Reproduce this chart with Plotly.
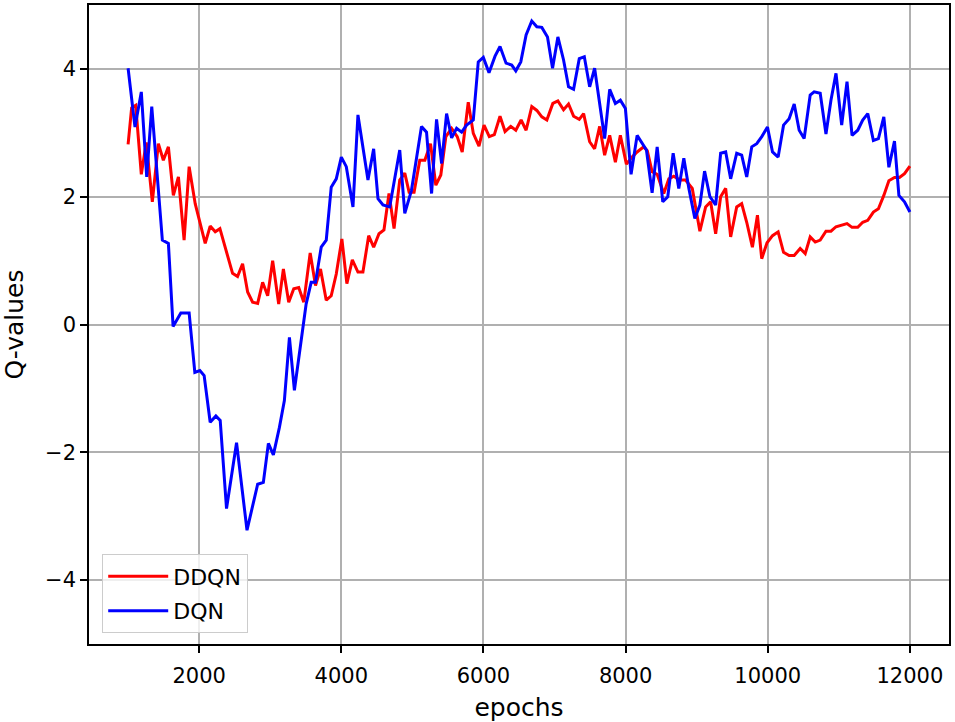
import plotly.graph_objects as go

# ---- data ----
ddqn_epochs = [1000, 1050, 1107, 1186, 1256, 1341, 1426, 1496, 1567, 1637, 1708, 1788, 1859, 1944,
               2085, 2155, 2226, 2292, 2470, 2540, 2611, 2682, 2752, 2823, 2893, 2964, 3034, 3119,
               3185, 3260, 3331, 3401, 3472, 3562, 3637, 3707, 3788, 3858, 3929, 4008, 4078, 4155,
               4234, 4304, 4385, 4455, 4530, 4600, 4671, 4742, 4822, 4893, 4954, 5024, 5104, 5175,
               5255, 5330, 5400, 5471, 5552, 5631, 5701, 5786, 5857, 5937, 6008, 6082, 6153, 6233,
               6304, 6384, 6455, 6530, 6600, 6680, 6751, 6821, 6892, 6976, 7047, 7127, 7197, 7268,
               7348, 7409, 7494, 7564, 7635, 7705, 7776, 7856, 7926, 8011, 8091, 8162, 8255, 8305,
               8373, 8444, 8537, 8608, 8678, 8763, 8843, 8938, 9045, 9126, 9196, 9267, 9337, 9408,
               9478, 9563, 9633, 9704, 9784, 9855, 9915, 9990, 10067, 10146, 10222, 10301, 10372,
               10456, 10527, 10597, 10668, 10738, 10819, 10889, 10960, 11040, 11115, 11186, 11266,
               11336, 11407, 11486, 11557, 11633, 11704, 11783, 11853, 11924, 12000]
ddqn_q = [2.82, 3.39, 3.43, 2.35, 2.85, 1.92, 2.83, 2.57, 2.78, 2.02, 2.31, 1.32, 2.47, 1.89,
          1.27, 1.54, 1.45, 1.50, 0.80, 0.75, 0.95, 0.51, 0.35, 0.33, 0.66, 0.45, 1.00, 0.32,
          0.87, 0.35, 0.56, 0.58, 0.35, 1.12, 0.61, 0.87, 0.38, 0.45, 0.79, 1.34, 0.64, 1.01,
          0.82, 0.82, 1.39, 1.21, 1.42, 1.48, 2.05, 1.50, 2.26, 2.37, 2.07, 2.07, 2.57, 2.57,
          2.83, 2.18, 2.34, 2.94, 3.07, 2.94, 2.70, 3.48, 2.99, 2.79, 3.12, 2.94, 2.97, 3.26,
          3.02, 3.10, 3.04, 3.20, 3.04, 3.41, 3.35, 3.25, 3.20, 3.46, 3.50, 3.36, 3.45, 3.26,
          3.21, 3.30, 2.86, 2.75, 3.10, 2.65, 2.96, 2.54, 2.96, 2.51, 2.62, 2.70, 2.78, 2.72,
          2.39, 2.35, 2.05, 2.28, 2.32, 2.26, 2.26, 2.13, 1.46, 1.84, 1.92, 1.42, 2.00, 2.13,
          1.37, 1.84, 1.89, 1.60, 1.21, 1.71, 1.03, 1.28, 1.39, 1.45, 1.13, 1.08, 1.08,
          1.19, 1.11, 1.37, 1.29, 1.32, 1.46, 1.46, 1.53, 1.55, 1.58, 1.52, 1.52,
          1.60, 1.63, 1.76, 1.81, 2.02, 2.25, 2.30, 2.30, 2.36, 2.48]

dqn_epochs = [1000, 1097, 1186, 1262, 1333, 1482, 1567, 1633, 1742, 1859, 1939, 2010, 2070, 2155,
              2235, 2296, 2385, 2526, 2673, 2823, 2903, 2974, 3044, 3129, 3199, 3270, 3340, 3421,
              3505, 3576, 3637, 3717, 3788, 3858, 3929, 4000, 4070, 4164, 4234, 4375, 4455, 4516,
              4586, 4681, 4822, 4893, 4987, 5128, 5199, 5270, 5340, 5411, 5481, 5552, 5622, 5693,
              5763, 5857, 5927, 5998, 6078, 6163, 6233, 6318, 6398, 6455, 6525, 6600, 6680, 6751,
              6821, 6901, 6972, 7047, 7127, 7197, 7268, 7348, 7419, 7494, 7564, 7705, 7776, 7856,
              7926, 7997, 8077, 8162, 8232, 8293, 8373, 8444, 8523, 8593, 8669, 8748, 8819, 8890,
              8974, 9045, 9111, 9186, 9267, 9337, 9408, 9478, 9563, 9633, 9704, 9775, 9845, 9916,
              9996, 10067, 10146, 10222, 10301, 10372, 10442, 10512, 10597, 10653, 10738, 10819,
              10889, 10960, 11040, 11115, 11186, 11266, 11336, 11407, 11486, 11557, 11633, 11704,
              11783, 11845, 11924, 12000]
dqn_q = [4.01, 3.09, 3.64, 2.31, 3.41, 1.32, 1.27, -0.03, 0.18, 0.18, -0.75, -0.72, -0.80, -1.53,
         -1.43, -1.50, -2.88, -1.85, -3.22, -2.50, -2.47, -1.86, -2.04, -1.61, -1.19, -0.20, -1.03, -0.36,
         0.32, 0.66, 0.66, 1.21, 1.32, 2.15, 2.28, 2.62, 2.47, 1.84, 3.28, 2.26, 2.75, 1.97,
         1.87, 1.84, 2.73, 1.74, 2.10, 3.10, 3.01, 2.05, 3.21, 2.52, 3.30, 2.92, 3.07, 3.01,
         3.12, 3.20, 4.11, 4.18, 3.94, 4.20, 4.35, 4.09, 4.06, 3.97, 4.11, 4.53, 4.75, 4.66,
         4.65, 4.50, 4.01, 4.50, 4.14, 3.72, 3.68, 4.16, 4.19, 3.72, 4.01, 2.91, 3.68, 3.46,
         3.51, 3.38, 2.35, 2.96, 2.83, 2.73, 2.06, 2.78, 1.92, 2.00, 2.68, 2.13, 2.60, 2.13,
         1.66, 1.87, 2.40, 2.00, 1.87, 2.68, 2.70, 2.28, 2.68, 2.65, 2.31, 2.78, 2.83, 2.94,
         3.09, 2.70, 2.62, 3.12, 3.22, 3.45, 3.04, 2.91, 3.59, 3.64, 3.62, 2.98,
         3.51, 3.93, 3.12, 3.80, 2.96, 3.04, 3.20, 3.30, 2.88, 2.91, 3.25, 2.46,
         2.87, 2.02, 1.92, 1.76]

x_ticks = [2000, 4000, 6000, 8000, 10000, 12000]
y_ticks = [-4, -2, 0, 2, 4]
x_label = "epochs"
y_label = "Q-values"

# ---- figure ----
fig = go.Figure()
fig.add_trace(go.Scatter(x=ddqn_epochs, y=ddqn_q, mode="lines", name="DDQN",
                         legendgroup="a", line=dict(color="#ff0000", width=3)))
fig.add_trace(go.Scatter(x=dqn_epochs, y=dqn_q, mode="lines", name="DQN",
                         legendgroup="b", line=dict(color="#0000ff", width=3)))

axis_common = dict(
    showline=True, linecolor="black", linewidth=1.6, mirror=True,
    ticks="outside", ticklen=7, tickwidth=1.6, tickcolor="black",
    showgrid=True, gridcolor="#b0b0b0", gridwidth=1.6, zeroline=False,
)

fig.update_layout(
    width=955, height=722,
    margin=dict(l=89, r=6, t=5, b=78, autoexpand=False),
    paper_bgcolor="white", plot_bgcolor="white",
    font=dict(family="DejaVu Sans", size=21, color="black"),
    xaxis=dict(range=[450, 12550], tickvals=x_ticks, tickformat="d",
               ticklabelstandoff=5, automargin=False,
               title=dict(text=x_label, standoff=14), **axis_common),
    yaxis=dict(range=[-5, 5], tickvals=y_ticks, automargin=False,
               title=dict(text=y_label, standoff=16), **axis_common),
    legend=dict(x=0.015, y=0.017, xanchor="left", yanchor="bottom",
                bgcolor="rgba(255,255,255,0.8)", bordercolor="#cccccc", borderwidth=1.3,
                font=dict(size=22), tracegroupgap=3, itemwidth=60),
    showlegend=True,
)

fig.write_html("out.html", config={"displayModeBar": False},
               post_script="document.body.style.margin='0';document.body.style.overflow='hidden';")
